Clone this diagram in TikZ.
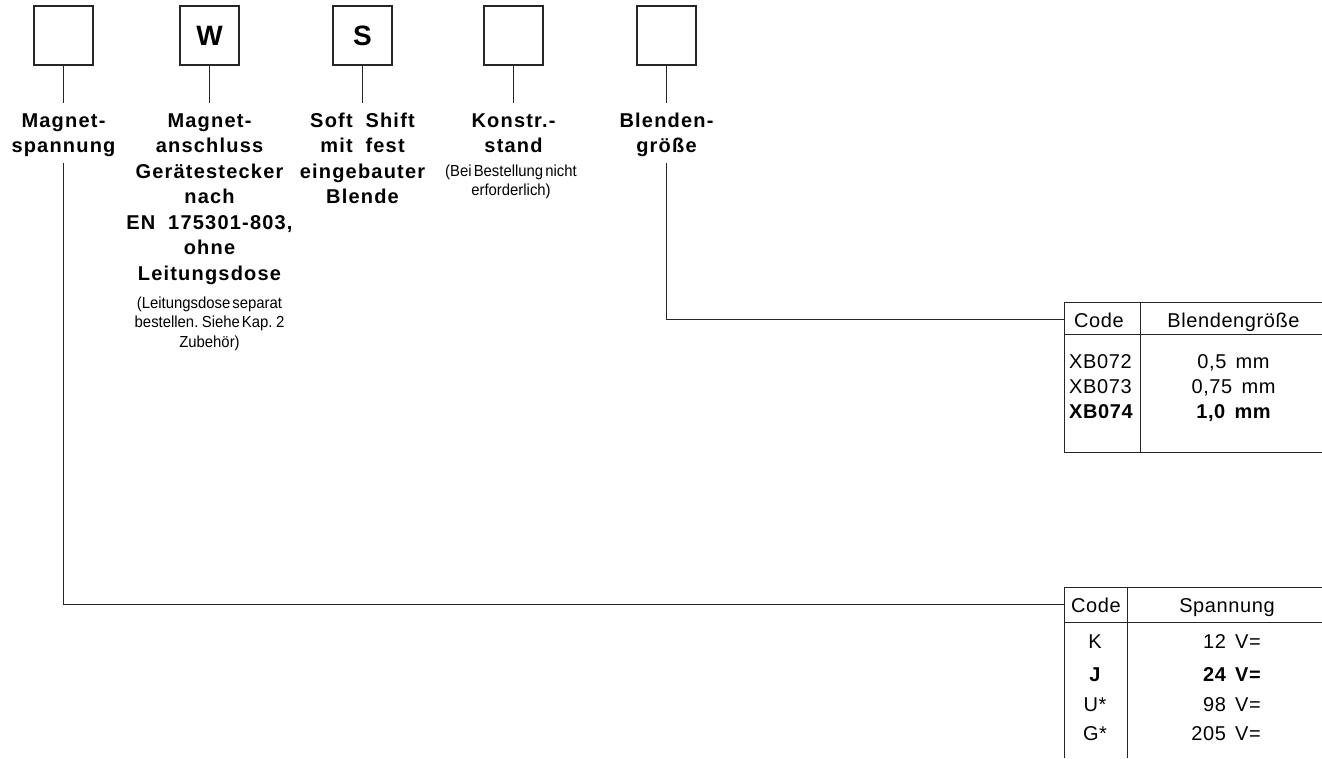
\documentclass[tikz,border=0pt]{standalone}
\usepackage{fontspec}
\setmainfont{Liberation Sans}
\newfontfamily\lblfont{Liberation Sans}[LetterSpace=6,WordSpace=1.9]
\newfontfamily\smlfont{Liberation Sans}[FakeStretch=0.93,WordSpace=0.5]
\newfontfamily\tabfont{Liberation Sans}[LetterSpace=3,WordSpace=1.5]
\tikzset{
  ln/.style={draw=black!85, line width=1.1pt},
  cbox/.style={draw=black!85, line width=1.3pt, minimum size=59pt, inner sep=0pt,
    font=\lblfont\bfseries\fontsize{28}{30}\selectfont, text=black},
  lbl/.style={anchor=north, align=center, inner sep=0pt, text=black,
    font=\lblfont\bfseries\fontsize{20}{25.5}\selectfont},
  sml/.style={anchor=north, align=center, inner sep=0pt, text=black,
    font=\smlfont\fontsize{16}{19.5}\selectfont},
  tb/.style={inner sep=0pt, anchor=base, text=black,
    font=\tabfont\fontsize{20}{24}\selectfont},
}
\begin{document}
\begin{tikzpicture}[x=1pt,y=-1pt]
\useasboundingbox (0,0) rectangle (1322,758);
% code boxes
\node[cbox] (b1) at (63.5,35.5) {};
\node[cbox] (b2) at (209.5,35.5) {W};
\node[cbox] (b3) at (362.5,35.5) {S};
\node[cbox] (b4) at (513.5,35.5) {};
\node[cbox] (b5) at (666.5,35.5) {};
% labels
\node[lbl] (l1) at (63.5,111) {\rule{0pt}{16pt}Magnet-\\spannung};
\node[lbl] (l2) at (209.5,111) {\rule{0pt}{16pt}Magnet-\\anschluss\\Gerätestecker\\nach\\EN 175301-803,\\ohne\\Leitungsdose};
\node[sml] (n2) at (209.5,295) {\rule{0pt}{13pt}(Leitungsdose separat\\bestellen. Siehe Kap. 2\\Zubehör)};
\node[lbl] (l3) at (362.5,111) {\rule{0pt}{16pt}Soft Shift\\mit fest\\eingebauter\\Blende};
\node[lbl] (l4) at (513.5,111) {\rule{0pt}{16pt}Konstr.-\\stand};
\node[sml] (n4) at (511,163) {\rule{0pt}{13pt}(Bei Bestellung nicht\\erforderlich)};
\node[lbl] (l5) at (666.5,111) {\rule{0pt}{16pt}Blenden-\\größe};
% connectors box -> label
\draw[ln, shorten >=8pt] (b1.south) -- (l1.north);
\draw[ln, shorten >=8pt] (b2.south) -- (l2.north);
\draw[ln, shorten >=8pt] (b3.south) -- (l3.north);
\draw[ln, shorten >=8pt] (b4.south) -- (l4.north);
\draw[ln, shorten >=8pt] (b5.south) -- (l5.north);
% table entries
\coordinate (t1in) at (1064,319.5);
\coordinate (t2in) at (1064,604.5);
\draw[ln, shorten <=6pt] (l5.south) |- (t1in);
\draw[ln, shorten <=6pt] (l1.south) |- (t2in);
% table 1
\draw[ln] (1322,302.5) -- (1064.5,302.5) -- (1064.5,452.5) -- (1322,452.5);
\draw[ln] (1064.5,334.5) -- (1322,334.5);
\draw[ln] (1140.5,302.5) -- (1140.5,452.5);
\node[tb] (c1) at (1099,327) {Code};
\node[tb] (h1) at (1233.5,327) {Blendengröße};
\node[tb, anchor=base west] (r1a) at (1069,368) {XB072};
\node[tb] (r1b) at (1233.5,368) {0,5 mm};
\node[tb, anchor=base west] (r2a) at (1069,393) {XB073};
\node[tb] (r2b) at (1233.5,393) {0,75 mm};
\node[tb, anchor=base west] (r3a) at (1069,418) {\bfseries XB074};
\node[tb] (r3b) at (1233.5,418) {\bfseries 1,0 mm};
% table 2
\draw[ln] (1322,587.5) -- (1064.5,587.5) -- (1064.5,758);
\draw[ln] (1064.5,622.5) -- (1322,622.5);
\draw[ln] (1127.5,587.5) -- (1127.5,758);
\node[tb] (c2) at (1096,612) {Code};
\node[tb] (h2) at (1227,612) {Spannung};
\node[tb] (s1a) at (1095,648) {K};
\node[tb, anchor=base east] (s1b) at (1261,648) {12 V=};
\node[tb] (s2a) at (1095,681) {\bfseries J};
\node[tb, anchor=base east] (s2b) at (1261,681) {\bfseries 24 V=};
\node[tb] (s3a) at (1095,711) {U*};
\node[tb, anchor=base east] (s3b) at (1261,711) {98 V=};
\node[tb] (s4a) at (1095,740) {G*};
\node[tb, anchor=base east] (s4b) at (1261,740) {205 V=};
\end{tikzpicture}
\end{document}
